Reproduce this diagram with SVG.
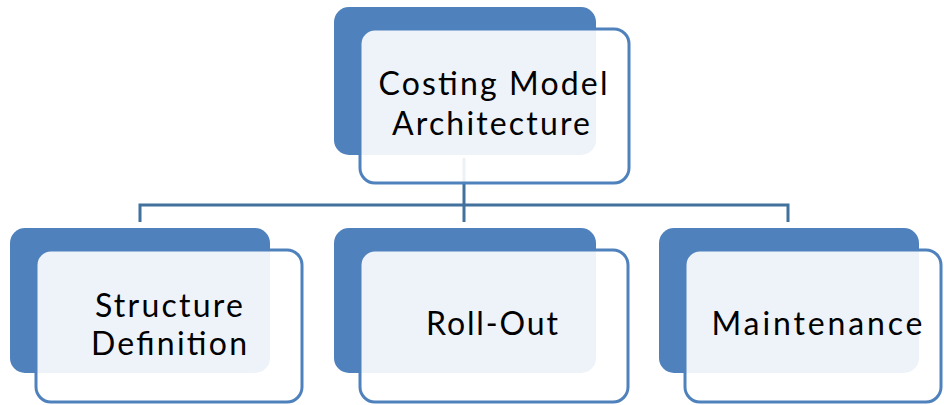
<svg xmlns="http://www.w3.org/2000/svg" width="944" height="405" viewBox="0 0 944 405">
<style>
.back{fill:#4F81BD;}
.front{fill:#FFFFFF;fill-opacity:0.9;stroke:#4F81BD;stroke-width:3;}
.conn{fill:none;stroke:#41719C;stroke-width:3;}
.lbl{font-family:Lato,"Open Sans",sans-serif;font-size:32px;fill:#000;text-anchor:middle;}
</style>
<rect width="944" height="405" fill="#FFFFFF"/>
<g id="connectors">
<path class="conn" d="M464 158 V205"/>
<path class="conn" d="M140 222 V205 H788 V222"/>
<path class="conn" d="M464 205 V222"/>
</g>
<g id="node-top">
<rect class="back" x="334" y="7" width="262" height="148" rx="15"/>
<rect class="front" x="360" y="29" width="269" height="154" rx="15"/>
<text class="lbl" x="493" y="95" textLength="229" lengthAdjust="spacing">Costing Model</text>
<text class="lbl" x="491" y="135" textLength="198" lengthAdjust="spacing">Architecture</text>
</g>
<g id="node-structure">
<rect class="back" x="10" y="228" width="260" height="145" rx="15"/>
<rect class="front" x="36" y="250" width="266" height="152" rx="15"/>
<text class="lbl" x="169" y="316.5" textLength="148" lengthAdjust="spacing">Structure</text>
<text class="lbl" x="169" y="355" textLength="156" lengthAdjust="spacing">Definition</text>
</g>
<g id="node-rollout">
<rect class="back" x="334" y="228" width="262" height="145" rx="15"/>
<rect class="front" x="360" y="250" width="268" height="152" rx="15"/>
<text class="lbl" x="492" y="335" textLength="132" lengthAdjust="spacing">Roll-Out</text>
</g>
<g id="node-maintenance">
<rect class="back" x="659" y="228" width="260" height="145" rx="15"/>
<rect class="front" x="685" y="250" width="256" height="152" rx="15"/>
<text class="lbl" x="817" y="335" textLength="211" lengthAdjust="spacing">Maintenance</text>
</g>
</svg>
